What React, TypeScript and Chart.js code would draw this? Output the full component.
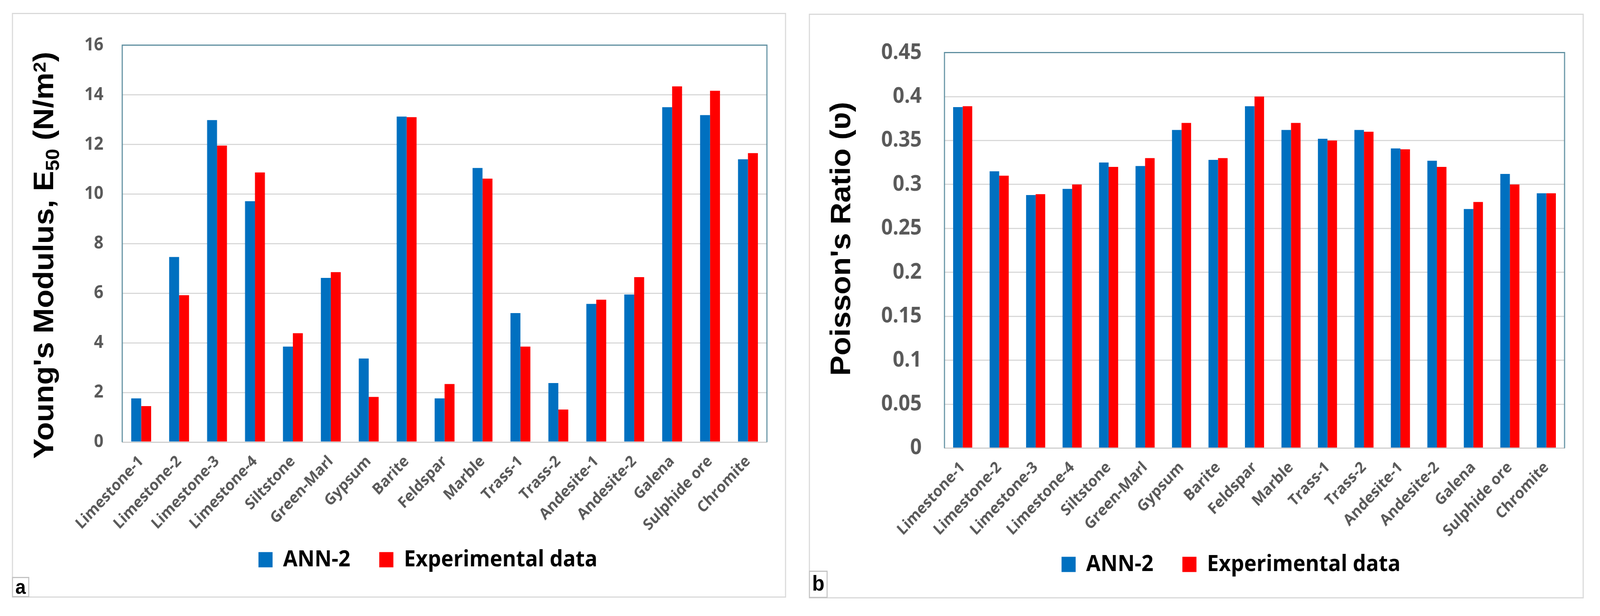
import React, { useEffect, useRef } from 'react';
import { Chart, registerables } from 'chart.js';

Chart.register(...registerables);

const rockTypes = [
  'Limestone-1', 'Limestone-2', 'Limestone-3', 'Limestone-4', 'Siltstone', 'Green-Marl',
  'Gypsum', 'Barite', 'Feldspar', 'Marble', 'Trass-1', 'Trass-2', 'Andesite-1',
  'Andesite-2', 'Galena', 'Sulphide ore', 'Chromite',
];

const seriesNames = ['ANN-2', 'Experimental data'];

const youngsAnn2 = [1.76, 7.46, 12.98, 9.71, 3.85, 6.62, 3.37, 13.12, 1.76, 11.05, 5.2, 2.38, 5.57, 5.95, 13.5, 13.18, 11.4];
const youngsExperimental = [1.45, 5.92, 11.95, 10.87, 4.39, 6.85, 1.82, 13.1, 2.34, 10.62, 3.85, 1.31, 5.74, 6.65, 14.34, 14.16, 11.65];

const poissonAnn2 = [0.388, 0.315, 0.288, 0.295, 0.325, 0.321, 0.362, 0.328, 0.389, 0.362, 0.352, 0.362, 0.341, 0.327, 0.272, 0.312, 0.29];
const poissonExperimental = [0.389, 0.31, 0.289, 0.3, 0.32, 0.33, 0.37, 0.33, 0.4, 0.37, 0.35, 0.36, 0.34, 0.32, 0.28, 0.3, 0.29];

const youngsTickLabels = ['0', '2', '4', '6', '8', '10', '12', '14', '16'];
const poissonTickLabels = ['0', '0.05', '0.1', '0.15', '0.2', '0.25', '0.3', '0.35', '0.4', '0.45'];

const DESIGN_W = 4425;
const DESIGN_H = 1576;

const BLUE = '#0070c0';
const RED = '#ff0000';
const GRAY_TEXT = '#595959';
const GRID = '#d9d9d9';
const FRAME = '#5f8fa0';
const CALIBRI_LIKE = '"Open Sans", "Noto Sans", sans-serif';
const ARIAL_LIKE = '"Liberation Sans", Arial, "DejaVu Sans", sans-serif';

const LEGEND_FONT = 58;
const LEGEND_PAD = 80;

type TitlePart = { text: string; scale?: number; shift?: number };

function richYTitle(parts: TitlePart[], baselineX: number, centerY: number, size: number) {
  return {
    id: 'richYTitle',
    afterDraw(chart: any) {
      const ctx = chart.ctx as CanvasRenderingContext2D;
      ctx.save();
      ctx.translate(baselineX, centerY);
      ctx.rotate(-Math.PI / 2);
      ctx.fillStyle = '#000000';
      ctx.textBaseline = 'alphabetic';
      ctx.textAlign = 'left';
      const fonts = parts.map((p) => `bold ${Math.round(size * (p.scale ?? 1))}px ${ARIAL_LIKE}`);
      const widths = parts.map((p, i) => {
        ctx.font = fonts[i];
        return ctx.measureText(p.text).width;
      });
      const total = widths.reduce((a, b) => a + b, 0);
      let x = -total / 2;
      parts.forEach((p, i) => {
        ctx.font = fonts[i];
        ctx.fillText(p.text, x, (p.shift ?? 0) * size);
        x += widths[i];
      });
      ctx.restore();
    },
  };
}

const plotFrame = {
  id: 'plotFrame',
  beforeDatasetsDraw(chart: any) {
    const { ctx, chartArea } = chart;
    const { left, top, right, bottom } = chartArea;
    ctx.save();
    ctx.strokeStyle = FRAME;
    ctx.lineWidth = 3;
    ctx.beginPath();
    ctx.moveTo(left, bottom);
    ctx.lineTo(left, top);
    ctx.lineTo(right, top);
    ctx.lineTo(right, bottom);
    ctx.stroke();
    ctx.restore();
  },
};

function legendPlace(dx: number, itemCenterY: number) {
  return {
    id: 'legendPlace',
    afterLayout(chart: any) {
      const lg = chart.legend;
      if (lg) {
        lg.left += dx;
        lg.right += dx;
        const top = itemCenterY - LEGEND_PAD - LEGEND_FONT / 2;
        const h = lg.height;
        lg.top = top;
        lg.bottom = top + h;
      }
    },
  };
}

type PanelCfg = {
  width: number;
  height: number;
  ann: number[];
  exp: number[];
  max: number;
  step: number;
  tickLabels: string[];
  tickSize: number;
  tickPadding: number;
  yWidth: number;
  xHeight: number;
  padTop: number;
  padRight: number;
  padBottom: number;
  titleParts: TitlePart[];
  titleBaselineX: number;
  titleCenterY: number;
  legendDx: number;
  legendCenterY: number;
};

function BarPanel({ cfg }: { cfg: PanelCfg }) {
  const ref = useRef<HTMLCanvasElement | null>(null);
  useEffect(() => {
    if (!ref.current) return;
    const chart = new Chart(ref.current, {
      type: 'bar',
      data: {
        labels: rockTypes,
        datasets: [
          { label: seriesNames[0], data: cfg.ann, backgroundColor: BLUE, borderWidth: 0, categoryPercentage: 0.524, barPercentage: 1.0 },
          { label: seriesNames[1], data: cfg.exp, backgroundColor: RED, borderWidth: 0, categoryPercentage: 0.524, barPercentage: 1.0 },
        ],
      },
      options: {
        animation: false,
        responsive: false,
        devicePixelRatio: 1,
        layout: { padding: { left: 0, top: cfg.padTop, right: cfg.padRight, bottom: cfg.padBottom } },
        plugins: {
          tooltip: { enabled: false },
          title: { display: false },
          legend: {
            display: true,
            position: 'bottom',
            fullSize: false,
            labels: {
              boxWidth: 39,
              boxHeight: 39,
              padding: LEGEND_PAD,
              color: '#000000',
              font: { family: CALIBRI_LIKE, size: LEGEND_FONT, weight: 'bold' },
            },
          },
        },
        scales: {
          x: {
            grid: { display: false },
            border: { display: true, color: '#cfcfcf', width: 3 },
            ticks: {
              autoSkip: false,
              maxRotation: 45,
              minRotation: 45,
              padding: 18,
              color: GRAY_TEXT,
              font: { family: CALIBRI_LIKE, size: 40, weight: 'bold' },
            },
            afterFit: (scale: any) => {
              scale.height = cfg.xHeight;
            },
          },
          y: {
            min: 0,
            max: cfg.max,
            grid: { color: GRID, lineWidth: 3, drawTicks: false },
            border: { display: false },
            ticks: {
              stepSize: cfg.step,
              padding: cfg.tickPadding,
              color: GRAY_TEXT,
              font: { family: CALIBRI_LIKE, size: cfg.tickSize, weight: 'bold' },
              callback: (value: any, index: number) => cfg.tickLabels[index] ?? String(+Number(value).toFixed(2)),
            },
            afterFit: (scale: any) => {
              scale.width = cfg.yWidth;
            },
          },
        },
      },
      plugins: [plotFrame, richYTitle(cfg.titleParts, cfg.titleBaselineX, cfg.titleCenterY, 78), legendPlace(cfg.legendDx, cfg.legendCenterY)],
    } as any);
    return () => chart.destroy();
  }, [cfg]);
  return <canvas ref={ref} width={cfg.width} height={cfg.height} style={{ display: 'block', width: cfg.width, height: cfg.height }} />;
}

const LEGEND_H = LEGEND_FONT + LEGEND_PAD + 10;
const X_HEIGHT = 270;

const leftCfg: PanelCfg = {
  width: 2135,
  height: 1490,
  ann: youngsAnn2,
  exp: youngsExperimental,
  max: 16,
  step: 2,
  tickLabels: youngsTickLabels,
  tickSize: 46,
  tickPadding: 52,
  yWidth: 302,
  xHeight: X_HEIGHT,
  padTop: 55,
  padRight: 50,
  padBottom: 1490 - 1095 - X_HEIGHT - LEGEND_H,
  titleParts: [
    { text: "Young's Modulus, E" },
    { text: '50', scale: 0.65, shift: 0.2 },
    { text: ' (N/m' },
    { text: '2', scale: 0.63, shift: -0.27 },
    { text: ')' },
  ],
  titleBaselineX: 111,
  titleCenterY: 617,
  legendDx: -46,
  legendCenterY: 1396,
};

const rightCfg: PanelCfg = {
  width: 2137,
  height: 1490,
  ann: poissonAnn2,
  exp: poissonExperimental,
  max: 0.45,
  step: 0.05,
  tickLabels: poissonTickLabels,
  tickSize: 56,
  tickPadding: 63,
  yWidth: 372,
  xHeight: X_HEIGHT,
  padTop: 59,
  padRight: 50,
  padBottom: 1490 - 1108.5 - X_HEIGHT - LEGEND_H,
  titleParts: [{ text: "Poisson's Ratio (\u028b)" }],
  titleBaselineX: 111,
  titleCenterY: 573,
  legendDx: -65,
  legendCenterY: 1406,
};

const panelBorder = '3px solid #d9d9d9';

export default function App() {
  const vw = typeof window !== 'undefined' ? window.innerWidth : DESIGN_W;
  const sx = Math.min(1, vw / DESIGN_W);
  return (
    <div style={{ position: 'absolute', left: 0, top: 0, width: DESIGN_W * sx, height: DESIGN_H, background: '#ffffff', overflow: 'hidden' }}>
      <div
        style={{
          position: 'absolute', left: 0, top: 0, width: DESIGN_W, height: DESIGN_H,
          transform: `scaleX(${sx})`, transformOrigin: '0 0', background: '#ffffff',
        }}
      >
        <div style={{ position: 'absolute', left: 33, top: 33, width: 2141, height: 1496, border: panelBorder, boxSizing: 'border-box', background: '#fff' }}>
          <BarPanel cfg={leftCfg} />
        </div>
        <div
          style={{
            position: 'absolute', left: 33, top: 1476, width: 48, height: 52, border: '3px solid #c3c3c3', boxSizing: 'border-box',
            background: '#fff', fontFamily: ARIAL_LIKE, fontWeight: 'bold', fontSize: 52, lineHeight: '44px', textAlign: 'center', color: '#000',
          }}
        >
          a
        </div>
        <div style={{ position: 'absolute', left: 2237, top: 35, width: 2143, height: 1496, border: panelBorder, boxSizing: 'border-box', background: '#fff' }}>
          <BarPanel cfg={rightCfg} />
        </div>
        <div
          style={{
            position: 'absolute', left: 2237, top: 1460, width: 52, height: 70, border: '3px solid #c3c3c3', boxSizing: 'border-box',
            background: '#fff', fontFamily: ARIAL_LIKE, fontWeight: 'bold', fontSize: 56, lineHeight: '58px', textAlign: 'center', color: '#000',
          }}
        >
          b
        </div>
      </div>
    </div>
  );
}
